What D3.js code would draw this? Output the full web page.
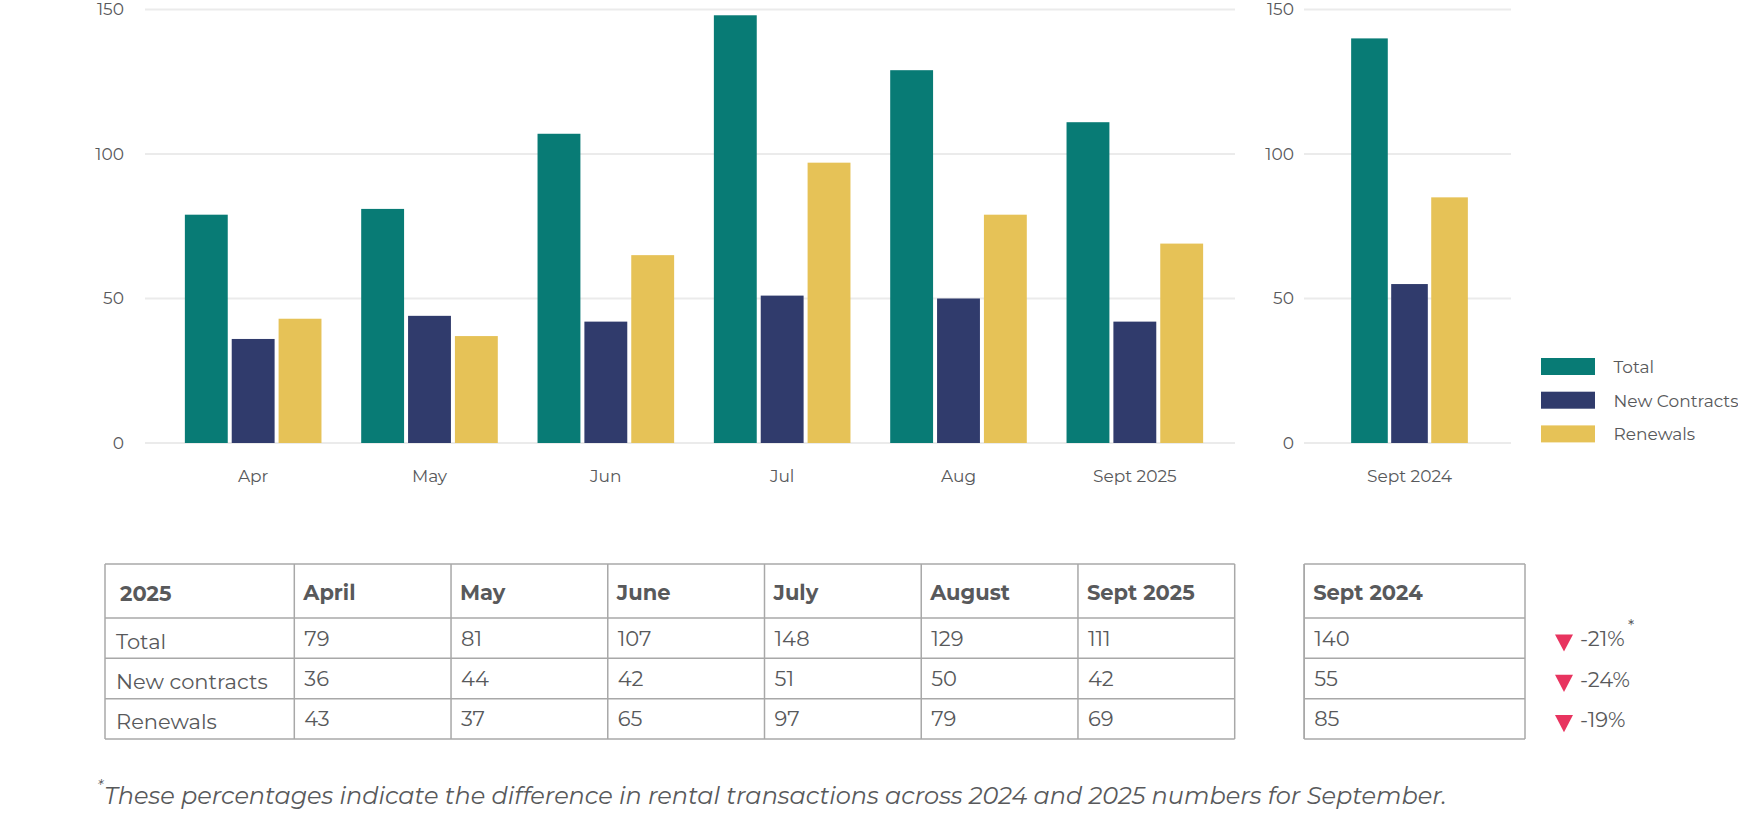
<!DOCTYPE html>
<html>
<head>
<meta charset="utf-8">
<script src="https://cdn.jsdelivr.net/npm/d3@7"></script>
<style>
  body { margin: 0; background: #fff; }
  svg { display: block; font-family: Montserrat, Inter, sans-serif; }
</style>
</head>
<body>
<svg id="chart" width="1738" height="820"></svg>
<script>
// data
var months = ["Apr", "May", "Jun", "Jul", "Aug", "Sept 2025"];
var tableMonths = ["April", "May", "June", "July", "August", "Sept 2025"];
var seriesNames = ["Total", "New Contracts", "Renewals"];
var rowNames = ["Total", "New contracts", "Renewals"];
var total = [79, 81, 107, 148, 129, 111];
var newContracts = [36, 44, 42, 51, 50, 42];
var renewals = [43, 37, 65, 97, 79, 69];
var prevLabel = "Sept 2024";
var prevValues = [140, 55, 85];
var changes = ["-21%", "-24%", "-19%"];
var yTicks = [0, 50, 100, 150];
var tableYear = "2025";
var footnote = "These percentages indicate the difference in rental transactions across 2024 and 2025 numbers for September.";

var colors = ["#087b75", "#303b6c", "#e6c257"];
var textColor = "#58595b";
var gridColor = "#ebebeb";

var svg = d3.select("#chart");

var y = d3.scaleLinear().domain([0, 150]).range([443, 9.5]);

var series = [total, newContracts, renewals];
var rows = months.map(function(m, i) {
  return { label: m, values: series.map(function(s) { return s[i]; }) };
});
var prevRows = [{ label: prevLabel, values: prevValues }];

function panel(data, x0, groupW, gridX0, gridX1, labelX) {
  var g = svg.append("g");

  g.selectAll(".grid")
    .data(yTicks)
    .enter().append("line")
    .attr("x1", gridX0).attr("x2", gridX1)
    .attr("y1", function(d) { return y(d); })
    .attr("y2", function(d) { return y(d); })
    .attr("stroke", gridColor)
    .attr("stroke-width", 2);

  g.selectAll(".ylab")
    .data(yTicks)
    .enter().append("text")
    .attr("x", labelX)
    .attr("y", function(d) { return y(d); })
    .attr("dy", "0.35em")
    .attr("text-anchor", "end")
    .attr("font-size", 17)
    .attr("fill", textColor)
    .text(function(d) { return d; });

  var bw = x0.bandwidth();
  var x1 = d3.scaleBand()
    .domain(seriesNames)
    .range([(bw - groupW) / 2, (bw + groupW) / 2])
    .paddingInner(0.085);

  var grp = g.selectAll(".grp")
    .data(data)
    .enter().append("g")
    .attr("transform", function(d) { return "translate(" + x0(d.label) + ",0)"; });

  grp.selectAll("rect")
    .data(function(d) { return d.values; })
    .enter().append("rect")
    .attr("x", function(d, i) { return x1(seriesNames[i]); })
    .attr("width", x1.bandwidth())
    .attr("y", function(d) { return y(d); })
    .attr("height", function(d) { return y(0) - y(d); })
    .attr("fill", function(d, i) { return colors[i]; });

  grp.append("text")
    .attr("x", bw / 2)
    .attr("y", 482)
    .attr("text-anchor", "middle")
    .attr("font-size", 17)
    .attr("fill", textColor)
    .text(function(d) { return d.label; });
}

var xMain = d3.scaleBand().domain(months).range([165, 1223]);
panel(rows, xMain, 136.6, 145, 1235, 124);

var xPrev = d3.scaleBand().domain([prevLabel]).range([1335, 1484]);
panel(prevRows, xPrev, 116.7, 1304, 1511, 1294);

// legend
var legend = svg.append("g")
  .selectAll("g")
  .data(seriesNames)
  .enter().append("g")
  .attr("transform", function(d, i) { return "translate(1541," + (358 + i * 33.7) + ")"; });
legend.append("rect")
  .attr("width", 54).attr("height", 17)
  .attr("fill", function(d, i) { return colors[i]; });
legend.append("text")
  .attr("x", 72.5).attr("y", 9)
  .attr("dy", "0.35em")
  .attr("font-size", 17)
  .attr("fill", textColor)
  .text(function(d) { return d; });

// tables
var headTop = 564, headBot = 618, tableBot = 739;
var rowY = d3.scaleBand().domain(rowNames).range([headBot, tableBot]);
var lineColor = "#a8a8a8";

function table(cols, left, firstW, right, header, cells) {
  var colX = d3.scaleBand().domain(cols).range([left + firstW, right]);
  var t = svg.append("g");
  var edges = [left].concat(cols.map(function(c) { return colX(c); })).concat([right]);
  var hLines = [headTop, headBot].concat(rowNames.map(function(r) { return rowY(r) + rowY.bandwidth(); }));

  t.selectAll(".hl").data(hLines).enter().append("line")
    .attr("x1", left).attr("x2", right)
    .attr("y1", function(d) { return d; }).attr("y2", function(d) { return d; })
    .attr("stroke", lineColor).attr("stroke-width", 1.5);
  t.selectAll(".vl").data(edges).enter().append("line")
    .attr("x1", function(d) { return d; }).attr("x2", function(d) { return d; })
    .attr("y1", headTop).attr("y2", tableBot)
    .attr("stroke", lineColor).attr("stroke-width", 1.5);

  t.selectAll(".hd").data(cols).enter().append("text")
    .attr("x", function(d) { return colX(d) + 9; })
    .attr("y", 600)
    .attr("font-size", 21).attr("font-weight", "bold")
    .attr("fill", textColor)
    .text(function(d) { return d; });

  if (header) {
    t.append("text")
      .attr("x", left + 15).attr("y", 601)
      .attr("font-size", 21).attr("font-weight", "bold")
      .attr("fill", textColor)
      .text(header);
    t.selectAll(".rl").data(rowNames).enter().append("text")
      .attr("x", left + 11)
      .attr("y", function(d) { return rowY(d) + 30.5; })
      .attr("font-size", 21)
      .attr("fill", textColor)
      .text(function(d) { return d; });
  }

  cols.forEach(function(c, ci) {
    t.selectAll(".c" + ci).data(cells(ci)).enter().append("text")
      .attr("x", colX(c) + 10)
      .attr("y", function(d, ri) { return rowY(rowNames[ri]) + 27.5; })
      .attr("font-size", 21)
      .attr("fill", textColor)
      .text(function(d) { return d; });
  });
}

table(tableMonths, 105, 189.3, 1234.7, tableYear, function(ci) {
  return series.map(function(s) { return s[ci]; });
});
table([prevLabel], 1304.2, 0, 1525, null, function() { return prevValues; });

// change markers
var chg = svg.append("g").selectAll("g")
  .data(changes)
  .enter().append("g")
  .attr("transform", function(d, i) { return "translate(0," + (rowY(rowNames[i]) + rowY.bandwidth() / 2) + ")"; });
chg.append("path")
  .attr("d", d3.symbol().type(d3.symbolTriangle).size(140))
  .attr("transform", "translate(1564,2) rotate(180) scale(1,1.1)")
  .attr("fill", "#e8345f");
chg.append("text")
  .attr("x", 1580).attr("y", 8)
  .attr("font-size", 21)
  .attr("fill", textColor)
  .text(function(d) { return d; });
chg.filter(function(d, i) { return i === 0; })
  .append("text")
  .attr("x", 1628).attr("y", -6)
  .attr("font-size", 16)
  .attr("fill", textColor)
  .text("*");

// footnote
var fn = svg.append("text")
  .attr("x", 97).attr("y", 804)
  .attr("font-size", 24)
  .attr("font-style", "italic")
  .attr("fill", textColor);
fn.append("tspan").attr("dy", -12).attr("font-size", 16).text("*");
fn.append("tspan").attr("x", 104).attr("dy", 12).text(footnote);
</script>
</body>
</html>
